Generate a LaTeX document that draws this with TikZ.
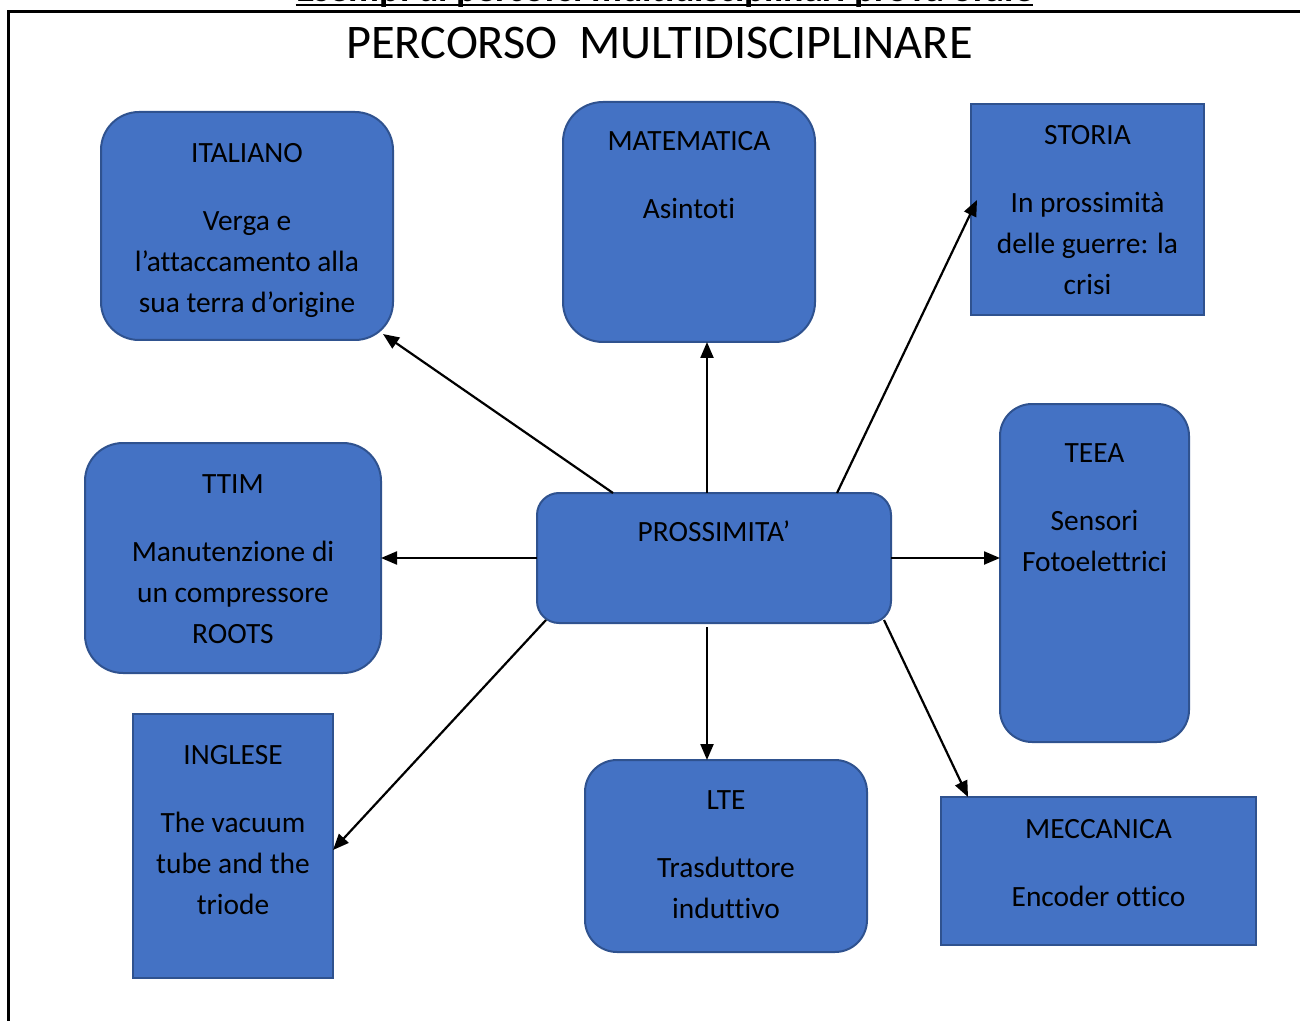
\documentclass[tikz,border=0pt]{standalone}
\usepackage{fontspec}
\setmainfont{Carlito}[Ligatures=NoCommon]
\usetikzlibrary{arrows.meta}

\definecolor{boxblue}{HTML}{4472C4}
\definecolor{boxedge}{HTML}{2F528F}

\tikzset{
  subj/.style={draw=boxedge, fill=boxblue, line width=1pt, outer sep=0pt, inner sep=0pt},
  txt/.style={anchor=north, align=center, inner sep=0pt, font=\fontsize{14.7}{20.5}\selectfont},
  link/.style={line width=1.1pt, -{Triangle[length=8pt,width=6.5pt]}}
}

\begin{document}
\begin{tikzpicture}[x=0.5pt, y=-0.5pt]
\useasboundingbox (0,0) rectangle (1300,1021);

% heading of the page, cut by the top edge
\node[anchor=base, inner sep=0pt, font=\bfseries\fontsize{19}{22}\selectfont] (head) at (664.5,2) {Esempi di percorsi multidisciplinari prova orale};
\draw[line width=1pt] ([yshift=-1.5pt]head.base west) -- ([yshift=-1.5pt]head.base east);

% frame
\draw[line width=1.5pt] (8,1021) -- (8,12) -- (1300,12);

\node[inner sep=0pt, font=\fontsize{24.15}{30}\selectfont] (title) at (659.5,43) {PERCORSO\ \ MULTIDISCIPLINARE};

% boxes
\node[subj, rounded corners=19pt, minimum width=146pt, minimum height=114pt]   (italiano)   at (247,226)    {};
\node[subj, rounded corners=20pt, minimum width=126pt, minimum height=120pt]   (matematica) at (689,222)    {};
\node[subj, minimum width=116.5pt, minimum height=105.5pt]                     (storia)     at (1087.5,209.5) {};
\node[subj, rounded corners=19pt, minimum width=148pt, minimum height=115pt]   (ttim)       at (233,558)    {};
\node[subj, rounded corners=11pt, minimum width=177pt, minimum height=65pt]    (prossimita) at (714,558)    {};
\node[subj, rounded corners=16pt, minimum width=94.5pt, minimum height=169pt]  (teea)       at (1094.5,573) {};
\node[subj, minimum width=100pt, minimum height=132pt]                         (inglese)    at (233,846)    {};
\node[subj, rounded corners=16pt, minimum width=141pt, minimum height=96pt]    (lte)        at (726,856)    {};
\node[subj, minimum width=157.5pt, minimum height=74pt]                        (meccanica)  at (1098.5,871) {};

% texts
\node[txt] (italiano-txt)   at (247,143)    {ITALIANO\\[13.5pt] Verga e\\ l’attaccamento alla\\ sua terra d’origine};
\node[txt] (matematica-txt) at (689,131)    {MATEMATICA\\[13.5pt] Asintoti};
\node[txt] (storia-txt)     at (1087.5,125) {STORIA\\[13.5pt] In prossimità\\ delle guerre: la\\ crisi};
\node[txt] (ttim-txt)       at (233,474)    {TTIM\\[13.5pt] Manutenzione di\\ un compressore\\ ROOTS};
\node[txt] (prossimita-txt) at (714,520)    {PROSSIMITA’};
\node[txt] (teea-txt)       at (1094.5,443) {TEEA\\[13.5pt] Sensori\\ Fotoelettrici};
\node[txt] (inglese-txt)    at (233,745)    {INGLESE\\[13.5pt] The vacuum\\ tube and the\\ triode};
\node[txt] (lte-txt)        at (726,790)    {LTE\\[13.5pt] Trasduttore\\ induttivo};
\node[txt] (meccanica-txt)  at (1098.5,819) {MECCANICA\\[13.5pt] Encoder ottico};

% links
\draw[link] ([xshift=-50.5pt]prossimita.north) -- ([xshift=-5pt,yshift=3pt]italiano.south east);
\draw[link] ([xshift=-3.5pt]prossimita.north) -- ([xshift=-3.5pt]prossimita.north |- matematica.south);
\draw[link] ([xshift=61.5pt]prossimita.north) -- ([xshift=3pt,yshift=4.75pt]storia.west);
\draw[link] (prossimita.west) -- (prossimita.west -| ttim.east);
\draw[link] (prossimita.east) -- (prossimita.east -| teea.west);
\draw[link] ([xshift=4.5pt,yshift=1.5pt]prossimita.south west) -- ([yshift=-2pt]inglese.east);
\draw[link] ([xshift=-3.5pt,yshift=-2pt]prossimita.south) -- ([xshift=-3.5pt]prossimita.south |- lte.north);
\draw[link] ([xshift=-3.5pt,yshift=1.5pt]prossimita.south east) -- ([xshift=13.5pt]meccanica.north west);

\end{tikzpicture}
\end{document}
